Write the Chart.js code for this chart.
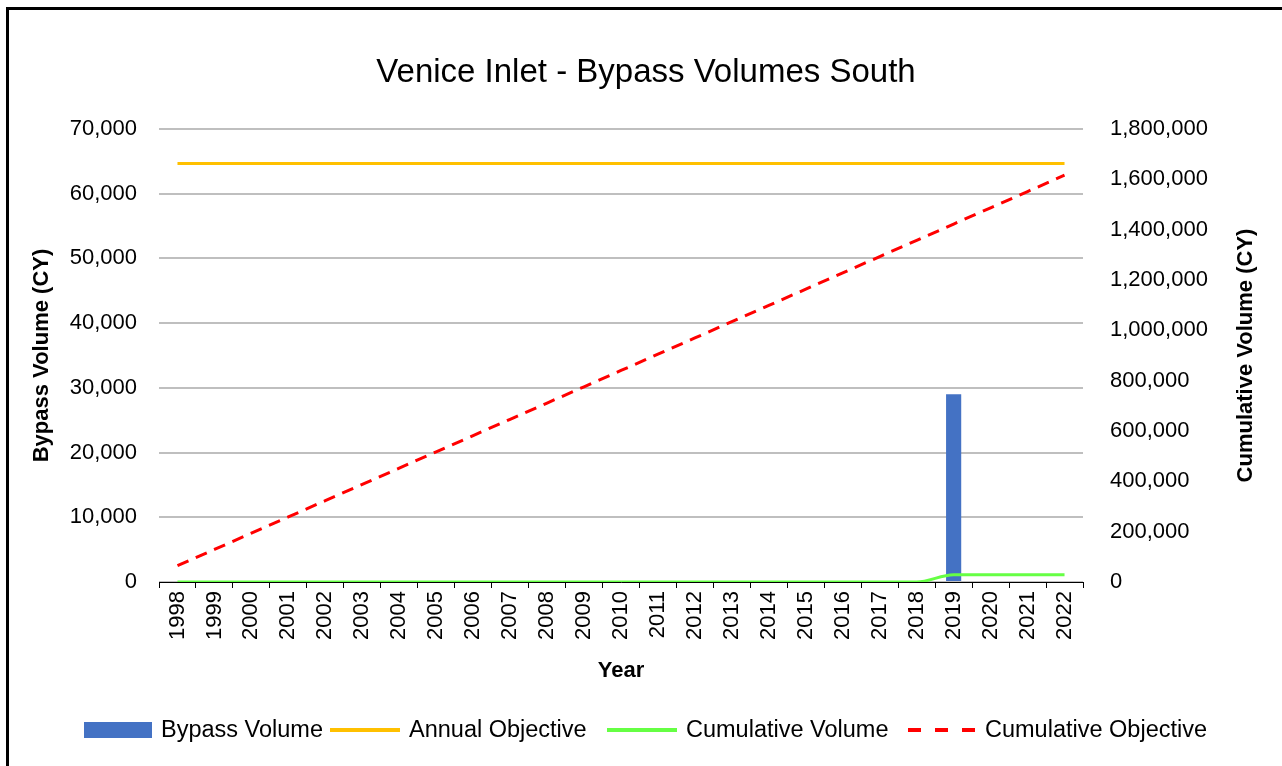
<!DOCTYPE html>
<html>
<head>
<meta charset="utf-8">
<script src="https://cdn.jsdelivr.net/npm/chart.js@4"></script>
<style>
  body { margin: 0; background: #fff; }
  #frame { position: absolute; left: 6px; top: 7px; width: 1300px; height: 800px;
           border-left: 3px solid #000; border-top: 3px solid #000; }
  #wrap { position: absolute; left: 0; top: 0; width: 1282px; height: 766px; }
  #legend { position: absolute; top: 716px; left: 0; width: 1282px; height: 30px;
            font-family: "Liberation Sans", Arial, sans-serif; font-size: 23.5px; color: #000;
            white-space: nowrap; }
  #legend .item { position: absolute; top: 0; display: flex; align-items: center; }
  #legend .sw { display: inline-block; margin-right: 9px; }
</style>
</head>
<body>
<div id="frame"></div>
<div id="wrap"><canvas id="myChart"></canvas></div>
<div id="legend"></div>
<script>
const years = ['1998','1999','2000','2001','2002','2003','2004','2005','2006','2007','2008','2009',
  '2010','2011','2012','2013','2014','2015','2016','2017','2018','2019','2020','2021','2022'];
const bypassVolume = [0,0,0,0,0,0,0,0,0,0,0,0,0,0,0,0,0,0,0,0,0,29000,0,0,0];
const annualObjective = [64650,64650,64650,64650,64650,64650,64650,64650,64650,64650,64650,64650,
  64650,64650,64650,64650,64650,64650,64650,64650,64650,64650,64650,64650,64650];
const cumulativeVolume = [0,0,0,0,0,0,0,0,0,0,0,0,0,0,0,0,0,0,0,0,0,29000,29000,29000,29000];
const cumulativeObjective = [64650,129300,193950,258600,323250,387900,452550,517200,581850,646500,
  711150,775800,840450,905100,969750,1034400,1099050,1163700,1228350,1293000,1357650,1422300,
  1486950,1551600,1616250];

const fontName = '"Liberation Sans", Arial, sans-serif';
const numFmt = v => v.toLocaleString('en-US');
const rightTitle = 'Cumulative Volume (CY)';
const legendLeft = [84, 330, 607, 908];

const data = {
  labels: years,
  datasets: [
    { type: 'bar', label: 'Bypass Volume', data: bypassVolume, yAxisID: 'y',
      backgroundColor: '#4472C4', categoryPercentage: 1, barPercentage: 0.41, order: 2 },
    { type: 'line', label: 'Annual Objective', data: annualObjective, yAxisID: 'y',
      borderColor: '#FFC000', borderWidth: 3, pointRadius: 0, order: 1 },
    { type: 'line', label: 'Cumulative Volume', data: cumulativeVolume, yAxisID: 'y2',
      borderColor: '#66FF44', borderWidth: 3, pointRadius: 0, cubicInterpolationMode: 'monotone', order: 0 },
    { type: 'line', label: 'Cumulative Objective', data: cumulativeObjective, yAxisID: 'y2',
      borderColor: '#FF0000', borderWidth: 3, borderDash: [12, 8], pointRadius: 0, order: 0 }
  ]
};

// right axis title reads bottom-to-top like the left one
const rightTitlePlugin = {
  id: 'rightTitle',
  afterDraw(chart) {
    const ctx = chart.ctx;
    const area = chart.chartArea;
    ctx.save();
    ctx.translate(1246, (area.top + area.bottom) / 2);
    ctx.rotate(-Math.PI / 2);
    ctx.font = 'bold 22px ' + fontName;
    ctx.fillStyle = '#000';
    ctx.textAlign = 'center';
    ctx.textBaseline = 'middle';
    ctx.fillText(rightTitle, 0, 0);
    ctx.restore();
  }
};

const config = {
  type: 'bar',
  data: data,
  plugins: [rightTitlePlugin],
  options: {
    responsive: true,
    maintainAspectRatio: false,
    animation: false,
    layout: { padding: { left: 20, right: 10, top: 42, bottom: 70 } },
    plugins: {
      legend: { display: false },
      tooltip: { enabled: false },
      title: {
        display: true,
        text: 'Venice Inlet - Bypass Volumes South',
        color: '#000',
        font: { family: fontName, size: 33, weight: 'normal' },
        padding: { top: 11, bottom: 36.4 }
      }
    },
    scales: {
      x: {
        offset: true,
        grid: { display: true, drawOnChartArea: false, drawTicks: true, tickLength: 6,
                color: '#000', offset: true },
        border: { display: true, color: '#000', width: 1 },
        ticks: { color: '#000', font: { family: fontName, size: 22 }, minRotation: 90,
                 maxRotation: 90, padding: 3, autoSkip: false },
        title: { display: true, text: 'Year', color: '#000',
                 font: { family: fontName, size: 22, weight: 'bold' }, padding: { top: 0, bottom: 12 } },
        afterFit: s => { s.height = 114; }
      },
      y: {
        position: 'left',
        min: 0, max: 70000,
        ticks: { stepSize: 10000, color: '#000', font: { family: fontName, size: 22 }, padding: 22,
                 callback: v => numFmt(v) },
        grid: { color: '#BFBFBF', lineWidth: 2, drawTicks: false },
        border: { display: false },
        title: { display: true, text: 'Bypass Volume (CY)', color: '#000',
                 font: { family: fontName, size: 22, weight: 'bold' }, padding: { top: 9, bottom: 0 } },
        afterFit: s => { s.width = 139; }
      },
      y2: {
        position: 'right',
        min: 0, max: 1800000,
        ticks: { stepSize: 200000, color: '#000', font: { family: fontName, size: 22 }, padding: 19,
                 callback: v => numFmt(v) },
        grid: { display: false, drawOnChartArea: false },
        border: { display: false },
        afterFit: s => { s.width = 189; }
      }
    }
  }
};

const myChart = new Chart(document.getElementById('myChart'), config);

// html legend, built from the datasets
const legendEl = document.getElementById('legend');
data.datasets.forEach((ds, i) => {
  const item = document.createElement('span');
  item.className = 'item';
  item.style.left = legendLeft[i] + 'px';
  const sw = document.createElement('span');
  sw.className = 'sw';
  if (ds.type === 'bar') {
    sw.style.width = '68px'; sw.style.height = '16px'; sw.style.background = ds.backgroundColor;
  } else if (ds.borderDash) {
    sw.style.width = '67px'; sw.style.height = '4px'; sw.style.marginRight = '10px';
    sw.style.background = 'repeating-linear-gradient(to right, ' + ds.borderColor + ' 0 13px, transparent 13px 27px)';
  } else {
    sw.style.width = '70px'; sw.style.height = '4px'; sw.style.marginRight = '9px';
    sw.style.background = ds.borderColor;
  }
  item.appendChild(sw);
  item.appendChild(document.createTextNode(ds.label));
  legendEl.appendChild(item);
});
</script>
</body>
</html>
